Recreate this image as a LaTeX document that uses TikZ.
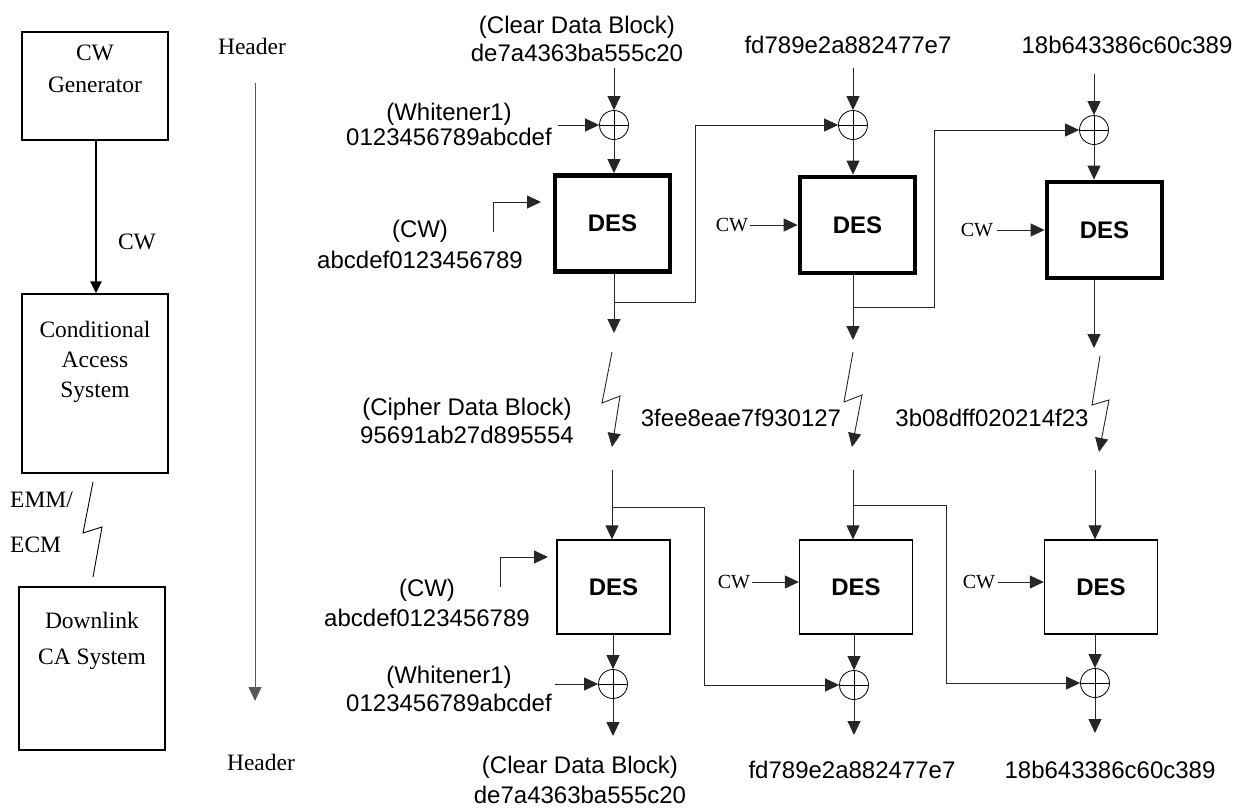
\documentclass[tikz,border=0pt]{standalone}
\usepackage{fontspec}
\setmainfont{Liberation Serif}
\setsansfont{Liberation Sans}
\usetikzlibrary{arrows.meta}
\begin{document}
\begin{tikzpicture}[x=1pt,y=-1pt,
  sf/.style={font=\fontsize{24}{27}\selectfont\sffamily, inner sep=0, align=center},
  rm/.style={font=\fontsize{23.5}{30}\selectfont, inner sep=0, align=center},
  rms/.style={font=\fontsize{20}{24}\selectfont, inner sep=0},
  box/.style={draw, line width=1.3pt, inner sep=0, minimum width=146pt},
  desA/.style={draw, line width=4.8pt, minimum width=115pt, minimum height=96pt, inner sep=0, font=\fontsize{24}{27}\selectfont\sffamily\bfseries},
  desB/.style={draw, line width=1.3pt, minimum width=113pt, minimum height=94pt, inner sep=0, font=\fontsize{24}{27}\selectfont\sffamily\bfseries},
  xor/.style={circle, draw, line width=0.8pt, minimum size=29pt, inner sep=0,
    path picture={\draw[line width=0.8pt] (path picture bounding box.north) -- (path picture bounding box.south)
      (path picture bounding box.west) -- (path picture bounding box.east);}},
  ln/.style={line width=1pt, draw=black!85},
  arr/.style={ln, -{Triangle[length=14pt,width=13pt]}},
  thickarr/.style={line width=2.8pt, -{Triangle[length=12pt,width=11pt]}}
]
\useasboundingbox (0,0) rectangle (1248,807);

% ---------------- left column ----------------
\node[box, minimum height=108pt] (cwg) at (95,86) {};
\node[rm, font=\fontsize{23.5}{32}\selectfont] (cwgt) at (95,69) {CW\\Generator};
\node[box, minimum height=179pt] (cas) at (95,383.5) {};
\node[rm] (cast) at (95,362) {Conditional\\Access\\System};
\node[box, minimum height=163pt] (dl) at (92,668.5) {};
\node[rm, font=\fontsize{23.5}{36}\selectfont] (dlt) at (92,641) {Downlink\\CA System};
\draw[thickarr] (cwg.south -| 96,0) -- (cas.north -| 96,0);
\node[rm] (cwl) at (137,242) {CW};
\coordinate (lz1) at (93,482);
\coordinate (lz2) at (93,577);
\draw[line width=0.9pt] (lz1) -- (83,533) -- (102,527) -- (lz2);
\node[rm, anchor=west] (emm) at (10,500) {EMM/};
\node[rm, anchor=west] (ecm) at (10,545) {ECM};

% header
\node[rm] (h1) at (252,46) {Header};
\node[rm] (h2) at (261,762) {Header};
\coordinate (hs) at (255,83);
\coordinate (he) at (255,701);
\draw[line width=1pt, draw=black!65, -{Triangle[length=14pt,width=13pt]}] (hs) -- (he);

% ---------------- top row ----------------
\node[sf, font=\fontsize{24}{28}\selectfont\sffamily] (t1) at (577,39) {(Clear Data Block)\\de7a4363ba555c20};
\node[sf] (t2) at (848,45) {fd789e2a882477e7};
\node[sf] (t3) at (1127,45) {18b643386c60c389};
\coordinate (s1) at (614,68);
\coordinate (s2) at (853,68);
\coordinate (s3) at (1094,74);
\node[xor] (x1) at (614,125) {};
\node[xor] (x2) at (853,125) {};
\node[xor] (x3) at (1094,130) {};
\draw[arr] (s1) -- (x1.north);
\draw[arr] (s2) -- (x2.north);
\draw[arr] (s3) -- (x3.north);

\node[desA] (d1) at (612.5,223.5) {DES};
\node[desA] (d2) at (857.5,225) {DES};
\node[desA] (d3) at (1104.5,230) {DES};
\draw[arr] (x1.south) -- (x1.south |- d1.north);
\draw[arr] (x2.south) -- (x2.south |- d2.north);
\draw[arr] (x3.south) -- (x3.south |- d3.north);

% whitener top
\node[sf, font=\fontsize{24}{25}\selectfont\sffamily] (w1) at (449,124) {(Whitener1)\\0123456789abcdef};
\coordinate (w1s) at (558,125);
\draw[arr] (w1s) -- (x1.west);

% CW inputs top
\node[sf, font=\fontsize{24}{31}\selectfont\sffamily] (cw1) at (420,244) {(CW)\\abcdef0123456789};
\coordinate (cw1s) at (493,232);
\coordinate (cw1e) at (541,202);
\draw[arr] (cw1s) |- (cw1e);
\node[rms] (cw2) at (732,225) {CW};
\draw[arr] (cw2.east) ++(2,0) -- (d2.west);
\node[rms] (cw3) at (977,230) {CW};
\draw[arr] (cw3.east) ++(4,0) -- (d3.west |- cw3.east);

% outputs top
\coordinate (o1) at (614,333);
\coordinate (o2) at (853,340);
\coordinate (o3) at (1094,348);
\draw[arr] (o1 |- d1.south) -- (o1);
\draw[arr] (o2 |- d2.south) -- (o2);
\draw[arr] (o3 |- d3.south) -- (o3);
\draw[arr] (614,302) -- (695,302) -- (695,125) -- (x2.west);
\draw[arr] (853,307) -- (934,307) -- (934,130) -- (x3.west);

% transmission lightning
\coordinate (l1a) at (612,352); \coordinate (l1b) at (612,447);
\coordinate (l2a) at (853,352); \coordinate (l2b) at (852,447);
\coordinate (l3a) at (1100,356); \coordinate (l3b) at (1099,452);
\draw[arr, line width=0.9pt] (l1a) -- (602,403) -- (620,396) -- (l1b);
\draw[arr, line width=0.9pt] (l2a) -- (844,402) -- (862,395) -- (l2b);
\draw[arr, line width=0.9pt] (l3a) -- (1092,405) -- (1109,400) -- (l3b);
\node[sf, font=\fontsize{24}{28}\selectfont\sffamily] (cd) at (467,421) {(Cipher Data Block)\\95691ab27d895554};
\node[sf] (c2) at (741,418) {3fee8eae7f930127};
\node[sf] (c3) at (992,418) {3b08dff020214f23};

% ---------------- bottom row ----------------
\node[desB] (d4) at (613.5,587) {DES};
\node[desB] (d5) at (856,587) {DES};
\node[desB] (d6) at (1101,587) {DES};
\coordinate (r1) at (612,470);
\coordinate (r2) at (853,470);
\coordinate (r3) at (1095,470);
\draw[arr] (r1) -- (r1 |- d4.north);
\draw[arr] (r2) -- (r2 |- d5.north);
\draw[arr] (r3) -- (r3 |- d6.north);

\node[xor] (x4) at (613,684) {};
\node[xor] (x5) at (854,685) {};
\node[xor] (x6) at (1095,683) {};
\draw[arr] (x4 |- d4.south) -- (x4.north);
\draw[arr] (x5 |- d5.south) -- (x5.north);
\draw[arr] (x6 |- d6.south) -- (x6.north);
\coordinate (e1) at (613,736);
\coordinate (e2) at (854,735);
\coordinate (e3) at (1095,733);
\draw[arr] (x4.south) -- (e1);
\draw[arr] (x5.south) -- (e2);
\draw[arr] (x6.south) -- (e3);
\draw[arr] (612,507) -- (704,507) -- (704,685) -- (x5.west);
\draw[arr] (853,505) -- (946,505) -- (946,683) -- (x6.west);

% CW inputs bottom
\node[sf, font=\fontsize{24}{30}\selectfont\sffamily] (cw4) at (427,603) {(CW)\\abcdef0123456789};
\coordinate (cw4s) at (500,587);
\coordinate (cw4e) at (548,557);
\draw[arr] (cw4s) |- (cw4e);
\node[rms] (cw5) at (734,582) {CW};
\draw[arr] (cw5.east) ++(2,0) -- (d5.west |- cw5.east);
\node[rms] (cw6) at (979,582) {CW};
\draw[arr] (cw6.east) ++(3,0) -- (d6.west |- cw6.east);

% whitener bottom
\node[sf, font=\fontsize{24}{28}\selectfont\sffamily] (w2) at (449,689) {(Whitener1)\\0123456789abcdef};
\coordinate (w2s) at (555,684);
\draw[arr] (w2s) -- (x4.west);

% bottom outputs
\node[sf, font=\fontsize{24}{30}\selectfont\sffamily] (b1) at (580,780) {(Clear Data Block)\\de7a4363ba555c20};
\node[sf] (b2) at (852,770) {fd789e2a882477e7};
\node[sf] (b3) at (1110,770) {18b643386c60c389};
\end{tikzpicture}
\end{document}
